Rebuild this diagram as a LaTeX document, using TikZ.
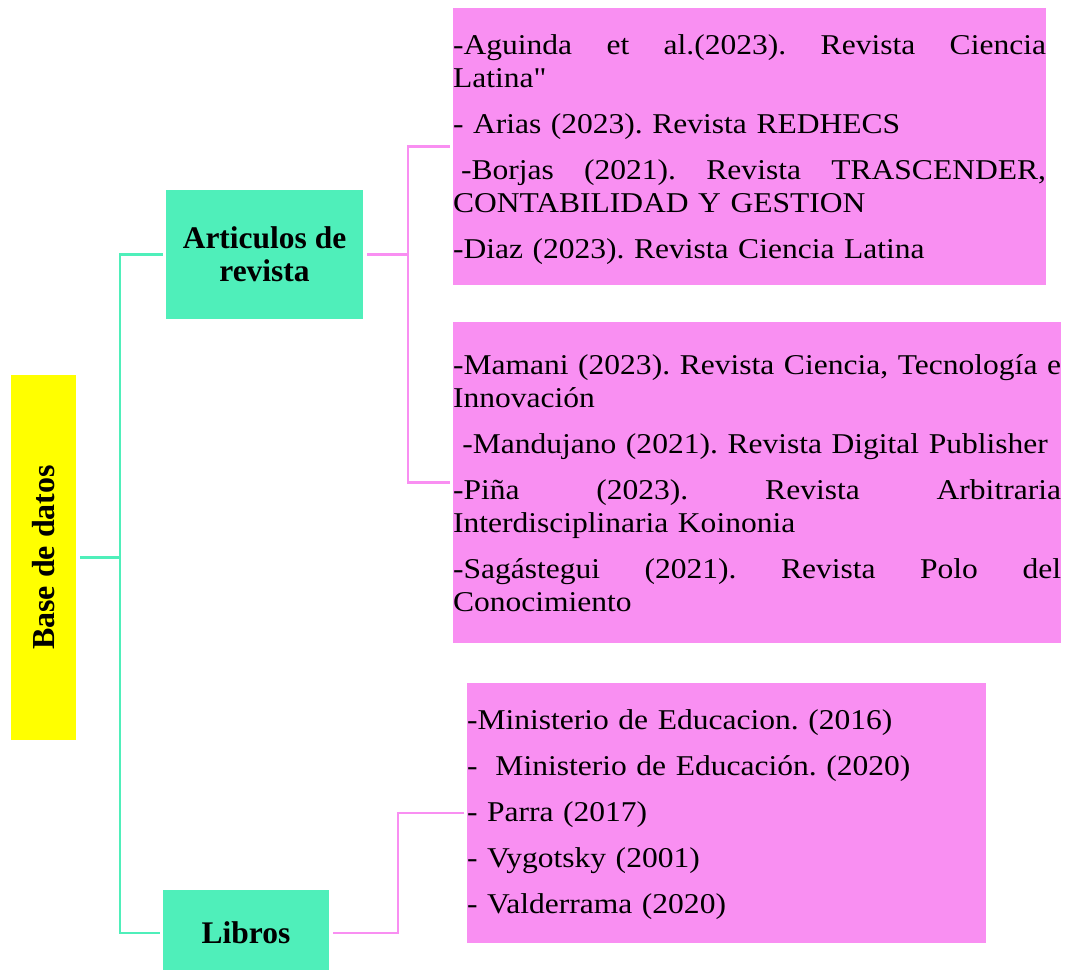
\documentclass[tikz,border=0pt]{standalone}
\usepackage{fontspec}
\setmainfont{Liberation Serif}
\newfontfamily\listafont[FakeStretch=1.1]{Liberation Serif}
\usepackage{tikz}
\usetikzlibrary{positioning}
\definecolor{verdeagua}{HTML}{4FEFBA}
\definecolor{rosa}{HTML}{F98FF2}
\definecolor{amarillo}{HTML}{FFFF00}
\tikzstyle{raiz}=[rectangle,fill=amarillo,inner sep=0pt,font=\fontsize{24}{24}\selectfont\bfseries]
\tikzstyle{tema}=[rectangle,fill=verdeagua,inner sep=0pt,align=center,font=\fontsize{23.6}{24.75}\selectfont\bfseries]
\tikzstyle{caja}=[rectangle,fill=rosa,inner sep=0pt]
\tikzstyle{lista}=[inner sep=0pt,align=left,anchor=base west,font=\listafont\fontsize{21.5}{24.75}\selectfont]
\tikzstyle{ramav}=[draw=verdeagua,line width=2pt]
\tikzstyle{ramar}=[draw=rosa,line width=2pt]
\newcommand{\lineajust}[2]{\makebox[#1][s]{\spaceskip=\fontdimen2\font plus 1fill\relax #2}}
\frenchspacing

\begin{document}
\begin{tikzpicture}[x=0.75pt,y=-0.75pt]
\useasboundingbox (0,0) rectangle (1071,970);

%raiz
\node[raiz,rotate=90,minimum width=273.75pt,minimum height=48.75pt] (base) at (43.5,557.5) {Base de datos};

%temas
\node[tema,minimum width=147.75pt,minimum height=96.75pt] (art) at (264.5,254.5) {Articulos de\\revista};
\node[tema,minimum width=124.5pt,minimum height=64.5pt] (lib) at (246,933) {Libros};

%cajas
\node[caja,minimum width=444.75pt,minimum height=207.75pt] (c1) at (749.5,146.5) {};
\node[caja,minimum width=456pt,minimum height=240.75pt] (c2) at (757,482.5) {};
\node[caja,minimum width=389.25pt,minimum height=195pt] (c3) at (726.5,813) {};

%textos de las cajas
\node[lista,text width=444.75pt] (t1) at ([yshift=-35.25pt]c1.north west) {%
\lineajust{444.75pt}{-Aguinda et al.(2023). Revista Ciencia}\\
Latina"\\[9.75pt]
- Arias (2023). Revista REDHECS\\[9.75pt]
\lineajust{444.75pt}{\hspace*{6pt}-Borjas (2021). Revista TRASCENDER,}\\
CONTABILIDAD Y GESTION\\[9.75pt]
-Diaz (2023). Revista Ciencia Latina};

\node[lista,text width=456pt] (t2) at ([yshift=-39.75pt]c2.north west) {%
\lineajust{456pt}{-Mamani (2023). Revista Ciencia, Tecnología e}\\
Innovación\\[9.75pt]
\hspace*{7pt}-Mandujano (2021). Revista Digital Publisher\\[9.75pt]
\lineajust{456pt}{-Piña (2023). Revista Arbitraria}\\
Interdisciplinaria Koinonia\\[9.75pt]
\lineajust{456pt}{-Sagástegui (2021). Revista Polo del}\\
Conocimiento};

\node[lista,text width=389.25pt] (t3) at ([yshift=-35.25pt]c3.north west) {%
-Ministerio de Educacion. (2016)\\[9.75pt]
-\hspace{13.5pt}Ministerio de Educación. (2020)\\[9.75pt]
- Parra (2017)\\[9.75pt]
- Vygotsky (2001)\\[9.75pt]
- Valderrama (2020)};

%ramas verdes
\coordinate (tk) at (120,557.5);
\draw[ramav,shorten <=3pt] (base) -- (tk);
\draw[ramav,shorten >=2pt] (tk) |- (art.west);
\draw[ramav,shorten >=2pt] (tk) |- (lib.west);

%ramas rosas
\coordinate (pk) at (408,254.5);
\draw[ramar,shorten <=3pt] (art.east) -- (pk);
\draw[ramar,shorten >=2pt] (pk) |- (c1.west);
\draw[ramar,shorten >=2pt] (pk) |- (c2.west);
\coordinate (lk) at (398,933);
\draw[ramar,shorten <=3pt,shorten >=2pt] (lib.east) -- (lk) |- (c3.west);

\end{tikzpicture}
\end{document}
